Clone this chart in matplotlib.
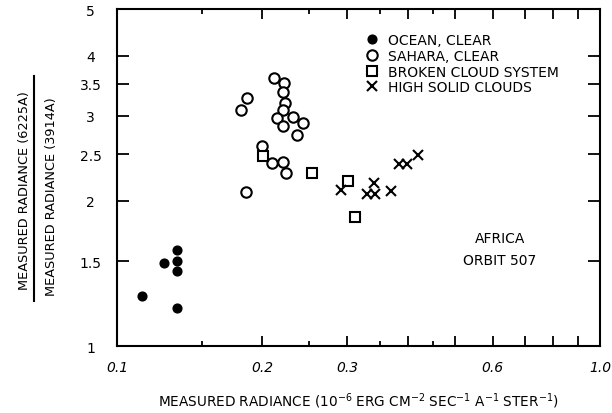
import numpy as np
import matplotlib.pyplot as plt
from matplotlib.lines import Line2D
from matplotlib.ticker import FixedLocator, FixedFormatter, NullLocator, NullFormatter

plt.rcParams['font.family'] = ['DejaVu Sans']
plt.rcParams['mathtext.fontset'] = 'dejavusans'

# radiance (x) vs ratio of radiances (y)
ocean_x = [0.1125, 0.1253, 0.1333, 0.1333, 0.1333, 0.1333]
ocean_y = [1.27, 1.49, 1.58, 1.50, 1.43, 1.20]

sahara_x = [0.2113, 0.2220, 0.1856, 0.1804, 0.2209, 0.2227, 0.2209, 0.2147, 0.2310,
            0.2423, 0.2209, 0.2355, 0.1999, 0.2091, 0.2203, 0.2235, 0.1850]
sahara_y = [3.59, 3.52, 3.27, 3.09, 3.36, 3.19, 3.08, 2.97, 2.98,
            2.90, 2.86, 2.74, 2.60, 2.40, 2.41, 2.29, 2.09]

broken_x = [0.2001, 0.2529, 0.3005, 0.3110]
broken_y = [2.48, 2.28, 2.20, 1.85]

high_x = [0.2912, 0.3293, 0.3421, 0.3405, 0.3692, 0.3830, 0.3989, 0.4190]
high_y = [2.11, 2.07, 2.07, 2.18, 2.10, 2.39, 2.39, 2.49]

x_ticks = [0.1, 0.2, 0.3, 0.4, 0.5, 0.6, 0.7, 0.8, 0.9, 1.0]
x_labels = ['0.1', '0.2', '0.3', '', '', '0.6', '', '', '', '1.0']
x_minor = [0.15, 0.25, 0.35, 0.45]
y_ticks = [1, 1.5, 2, 2.5, 3, 3.5, 4, 5]
y_labels = ['1', '1.5', '2', '2.5', '3', '3.5', '4', '5']

fig = plt.figure(figsize=(6.12, 4.14), dpi=100)
ax = fig.add_axes([0.1912, 0.1618, 0.7892, 0.814])

ax.plot(ocean_x, ocean_y, 'o', color='black', ms=6.3, label='OCEAN, CLEAR')
ax.plot(sahara_x, sahara_y, 'o', mfc='white', mec='black', mew=1.5, ms=7.5,
        label='SAHARA, CLEAR')
ax.plot(broken_x, broken_y, 's', mfc='white', mec='black', mew=1.5, ms=6.5,
        label='BROKEN CLOUD SYSTEM')
ax.plot(high_x, high_y, 'x', color='black', mew=1.5, ms=6.5, label='HIGH SOLID CLOUDS')

ax.set_xscale('log')
ax.set_yscale('log')
ax.set_xlim(0.1, 1.0)
ax.set_ylim(1, 5)

ax.xaxis.set_major_locator(FixedLocator(x_ticks))
ax.xaxis.set_major_formatter(FixedFormatter(x_labels))
ax.xaxis.set_minor_locator(FixedLocator(x_minor))
ax.xaxis.set_minor_formatter(NullFormatter())
ax.yaxis.set_major_locator(FixedLocator(y_ticks))
ax.yaxis.set_major_formatter(FixedFormatter(y_labels))
ax.yaxis.set_minor_locator(NullLocator())

ax.tick_params(which='both', direction='in', top=True, right=True, width=1.3,
               labelsize=10)
ax.tick_params(axis='x', which='major', length=7, pad=10)
ax.tick_params(axis='x', which='minor', length=3.5)
ax.tick_params(axis='y', which='major', length=8.5, pad=19)
for lbl in ax.get_xticklabels():
    lbl.set_style('italic')
for lbl in ax.get_yticklabels():
    lbl.set_ha('center')
for s in ax.spines.values():
    s.set_linewidth(1.5)

ax.set_xlabel(r'MEASURED RADIANCE (10$^{-6}$ ERG CM$^{-2}$ SEC$^{-1}$ A$^{-1}$ STER$^{-1}$)',
              fontsize=9.8, labelpad=12)

# ratio label drawn as a fraction
fig.text(25 / 612, 1 - 191 / 414, 'MEASURED RADIANCE (6225A)', rotation=90,
         ha='center', va='center', fontsize=9.3)
fig.add_artist(Line2D([34 / 612, 34 / 612], [1 - 77 / 414, 1 - 302 / 414],
                      transform=fig.transFigure, color='black', lw=1.5))
fig.text(52 / 612, 1 - 197 / 414, 'MEASURED RADIANCE (3914A)', rotation=90,
         ha='center', va='center', fontsize=9.3)

ax.text(0.62, 1.59, 'AFRICA\nORBIT 507', ha='center', va='center',
        fontsize=10, linespacing=1.7)

ax.legend(loc='upper left', bbox_to_anchor=(0.513, 0.928), frameon=False,
          fontsize=10, borderpad=0, handlelength=1.0, handletextpad=0.65,
          labelspacing=0.12, borderaxespad=0)

fig.savefig('out.png', dpi=100)
